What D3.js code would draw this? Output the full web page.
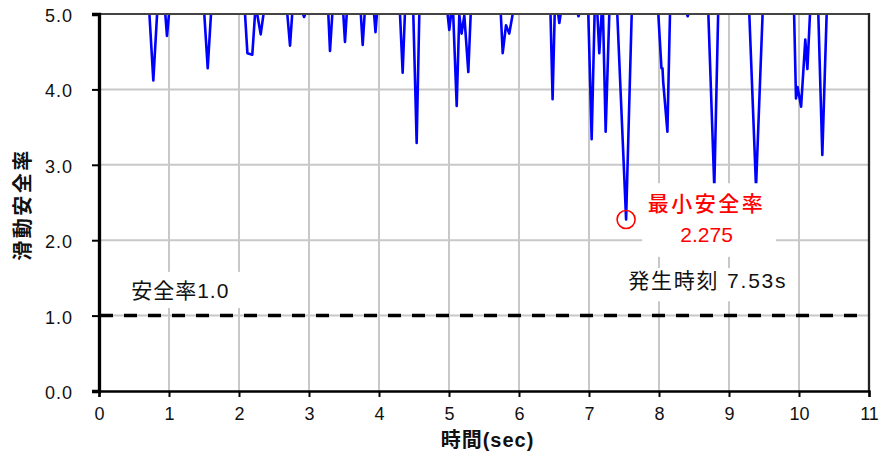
<!DOCTYPE html>
<html>
<head>
<meta charset="utf-8">
<script src="https://cdn.jsdelivr.net/npm/d3@7"></script>
<style>
  body { margin: 0; background: #fff; }
  text { font-family: "Liberation Sans", Arial, "Noto Sans CJK JP", sans-serif; }
</style>
</head>
<body>
<div id="chart"></div>
<script>
// time (sec) and sliding safety factor
const timeSec = [
  0, 0.72, 0.776, 0.83, 0.89,
  0.947, 0.971, 1.0, 1.25,
  1.504, 1.553, 1.60, 1.85,
  2.086, 2.12, 2.19, 2.229, 2.24, 2.26, 2.31, 2.35, 2.5,
  2.69, 2.729, 2.76, 2.85,
  2.915, 2.93, 2.945, 3.1,
  3.276, 3.30, 3.333, 3.41,
  3.49, 3.514, 3.539, 3.65,
  3.74, 3.767, 3.795, 3.87,
  3.93, 3.95, 3.97, 4.15,
  4.30, 4.338, 4.37, 4.43,
  4.49, 4.538, 4.576, 4.78,
  4.98, 5.004, 5.03, 5.04, 5.06, 5.11, 5.147, 5.18, 5.219, 5.276, 5.31, 5.5,
  5.74, 5.767, 5.814, 5.861, 5.91, 6.2,
  6.45, 6.48, 6.51, 6.54, 6.56, 6.576, 6.595, 6.7,
  6.84, 6.85, 6.86, 6.93,
  6.99, 7.038, 7.08, 7.10, 7.12, 7.147, 7.18, 7.19, 7.20, 7.238, 7.29, 7.35,
  7.404, 7.53, 7.61, 7.8,
  7.99, 8.035, 8.05, 8.06, 8.12, 8.157, 8.3,
  8.40, 8.41, 8.42, 8.55,
  8.705, 8.79, 8.845, 9.1,
  9.29, 9.386, 9.48, 9.7,
  9.93, 9.957, 9.98, 10.03, 10.09, 10.12, 10.157, 10.22,
  10.276, 10.333, 10.395, 10.5
]
const safetyFactor = [
  6, 5, 4.12, 5, 6,
  5, 4.71, 5, 6,
  5, 4.28, 5, 6,
  5, 4.48, 4.46, 5, 5.2, 5, 4.73, 5, 6,
  5, 4.58, 5, 6,
  5, 4.96, 5, 6,
  5, 4.51, 5, 6,
  5, 4.63, 5, 6,
  5, 4.59, 5, 6,
  5, 4.76, 5, 6,
  5, 4.22, 5, 6,
  5, 3.29, 5, 6,
  5, 4.79, 5, 5.2, 5, 3.78, 4.99, 4.74, 4.98, 4.23, 5, 6,
  5, 4.48, 4.85, 4.74, 5, 6,
  5, 3.87, 5, 5.2, 5, 4.88, 5, 6,
  5, 4.97, 5, 6,
  5, 3.34, 5, 5.2, 5, 4.48, 5, 5.2, 5, 3.44, 5, 6,
  5, 2.275, 5, 6,
  5, 4.28, 4.28, 4.1, 3.44, 5, 6,
  5, 4.97, 5, 6,
  5, 2.70, 5, 6,
  5, 2.70, 5, 6,
  5, 3.88, 4.03, 3.77, 4.66, 4.27, 5, 6,
  5, 3.13, 5, 6
]

const xTicks = [0, 1, 2, 3, 4, 5, 6, 7, 8, 9, 10, 11]
const yTicks = [0, 1, 2, 3, 4, 5]
const limitValue = 1.0
const minPoint = { t: 7.53, fs: 2.275 }

const W = 880, H = 461
const margin = {top: 14, right: 11, bottom: 70, left: 99}

const svg = d3.select('#chart').append('svg')
  .attr('width', W)
  .attr('height', H)

svg.append('rect').attr('width', W).attr('height', H).attr('fill', '#fff')

const x = d3.scaleLinear().domain([0, 11]).range([margin.left, W - margin.right])
const y = d3.scaleLinear().domain([0, 5]).range([H - margin.bottom, margin.top])

// grid
svg.append('g')
  .selectAll('line.vg')
  .data(xTicks.slice(1, -1))
  .join('line')
    .attr('x1', d => x(d)).attr('x2', d => x(d))
    .attr('y1', y(0)).attr('y2', y(5))
    .attr('stroke', '#c8c8c8').attr('stroke-width', 2)
svg.append('g')
  .selectAll('line.hg')
  .data(yTicks.slice(1, -1))
  .join('line')
    .attr('x1', x(0)).attr('x2', x(11))
    .attr('y1', d => y(d)).attr('y2', d => y(d))
    .attr('stroke', '#c8c8c8').attr('stroke-width', 2)

// safety factor 1.0 line
svg.append('line')
  .attr('x1', x(0) + 1).attr('x2', x(11))
  .attr('y1', y(limitValue)).attr('y2', y(limitValue))
  .attr('stroke', '#000').attr('stroke-width', 3.5)
  .attr('stroke-dasharray', '13,11')

// series
svg.append('clipPath').attr('id', 'plotclip')
  .append('rect')
  .attr('x', x(0)).attr('y', y(5))
  .attr('width', x(11) - x(0)).attr('height', y(0) - y(5))

const series = timeSec.map((t, i) => [t, safetyFactor[i]])
const line = d3.line().x(d => x(d[0])).y(d => y(d[1]))

svg.append('path')
  .datum(series)
  .attr('clip-path', 'url(#plotclip)')
  .attr('fill', 'none')
  .attr('stroke', '#0000ff')
  .attr('stroke-width', 2.6)
  .attr('stroke-linejoin', 'round')
  .attr('d', line)

// annotation boxes (white, hide grid and line)
function box(t0, t1, v0, v1) {
  svg.append('rect')
    .attr('x', x(t0)).attr('y', y(v0))
    .attr('width', x(t1) - x(t0)).attr('height', y(v1) - y(v0))
    .attr('fill', '#fff')
}
box(0.30, 2.06, 1.58, 1.10)
box(7.76, 9.67, 2.755, 1.78)
box(7.35, 9.85, 1.63, 1.19)

svg.append('text')
  .attr('x', x(0.46)).attr('y', y(1.24))
  .attr('font-size', 21).attr('letter-spacing', 1)
  .attr('fill', '#111')
  .text('安全率1.0')

svg.append('text')
  .attr('x', x(8.68)).attr('y', y(2.39))
  .attr('text-anchor', 'middle')
  .attr('font-size', 21).attr('letter-spacing', 2.5)
  .attr('font-weight', 500)
  .attr('fill', '#ff0000')
  .text('最小安全率')
svg.append('text')
  .attr('x', x(8.68)).attr('y', y(1.98))
  .attr('text-anchor', 'middle')
  .attr('font-size', 21)
  .attr('fill', '#ff0000')
  .text(d3.format('.3f')(minPoint.fs))

svg.append('text')
  .attr('x', x(7.56)).attr('y', y(1.37))
  .attr('font-size', 21).attr('letter-spacing', 1.8)
  .attr('fill', '#111')
  .text('発生時刻 ' + minPoint.t + 's')

svg.append('circle')
  .attr('cx', x(minPoint.t)).attr('cy', y(minPoint.fs))
  .attr('r', 9)
  .attr('fill', 'none')
  .attr('stroke', '#ff0000').attr('stroke-width', 1.6)

// frame
svg.append('line')
  .attr('x1', x(0)).attr('x2', x(11)).attr('y1', y(5)).attr('y2', y(5))
  .attr('stroke', '#444').attr('stroke-width', 2.2)
svg.append('line')
  .attr('x1', x(11)).attr('x2', x(11)).attr('y1', y(5) - 1).attr('y2', y(0))
  .attr('stroke', '#222').attr('stroke-width', 2.3)

// axes
const xAxis = svg.append('g')
  .attr('transform', `translate(0,${y(0)})`)
  .call(d3.axisBottom(x).tickValues(xTicks).tickSize(6).tickPadding(10).tickFormat(d3.format('d')))
xAxis.select('.domain').attr('stroke', '#000').attr('stroke-width', 2.3)
xAxis.selectAll('.tick line').attr('stroke', '#000').attr('stroke-width', 2)
xAxis.selectAll('text').attr('font-size', 18).attr('fill', '#111')
  .attr('font-family', '"Liberation Sans", Arial, sans-serif')

const yAxis = svg.append('g')
  .attr('transform', `translate(${x(0)},0)`)
  .call(d3.axisLeft(y).tickValues(yTicks).tickSize(7).tickPadding(19).tickFormat(d3.format('.1f')))
yAxis.select('.domain').attr('stroke', '#000').attr('stroke-width', 3.3)
yAxis.selectAll('.tick line').attr('stroke', '#000').attr('stroke-width', 2)
yAxis.selectAll('text').attr('font-size', 18).attr('fill', '#111')
  .attr('letter-spacing', 1)
  .attr('dy', '0.42em')
  .attr('font-family', '"Liberation Sans", Arial, sans-serif')

// axis titles
svg.append('text')
  .attr('x', x(5.55)).attr('y', H - 14)
  .attr('text-anchor', 'middle')
  .attr('font-size', 20).attr('font-weight', 'bold')
  .attr('letter-spacing', 1)
  .attr('fill', '#111')
  .text('時間(sec)')

svg.append('text')
  .attr('transform', `translate(30,${y(2.5) + 2}) rotate(-90)`)
  .attr('text-anchor', 'middle')
  .attr('font-size', 20).attr('font-weight', 'bold')
  .attr('letter-spacing', 2.5)
  .attr('fill', '#111')
  .text('滑動安全率')
</script>
</body>
</html>
